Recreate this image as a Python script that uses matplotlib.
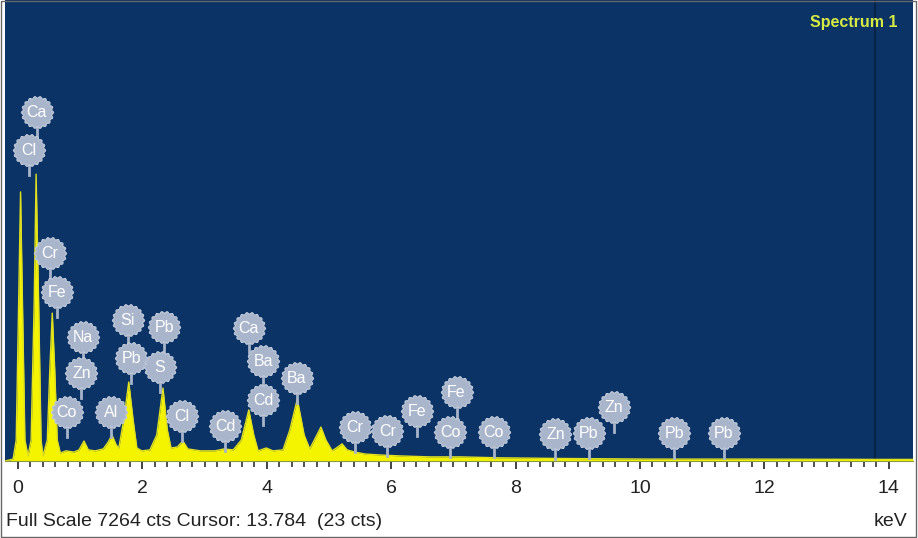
import numpy as np
import matplotlib
matplotlib.use("Agg")
import matplotlib.pyplot as plt
from matplotlib.path import Path
from matplotlib.patches import Rectangle

plt.rcParams['font.family'] = ['Liberation Sans', 'DejaVu Sans']

FULL_SCALE = 7264
CURSOR_KEV = 13.784

# spectrum outline (keV, counts)
spec_kev = [-0.21, -0.08, -0.03, 0.01, 0.04, 0.07, 0.11, 0.16, 0.21, 0.26, 0.29, 0.33,
            0.37, 0.40, 0.47, 0.51, 0.55, 0.59, 0.63, 0.68, 0.77, 0.90, 0.98, 1.06,
            1.13, 1.24, 1.37, 1.45, 1.51, 1.58, 1.62, 1.70, 1.78, 1.85, 1.91, 1.99,
            2.12, 2.23, 2.33, 2.40, 2.46, 2.56, 2.65, 2.73, 2.93, 3.17, 3.31, 3.46,
            3.59, 3.71, 3.79, 3.86, 3.99, 4.10, 4.26, 4.37, 4.49, 4.60, 4.69, 4.79,
            4.87, 4.95, 5.05, 5.14, 5.21, 5.29, 5.42, 5.58, 5.82, 6.14, 6.62, 7.11,
            7.75, 8.71, 10.16, 11.77, 13.86, 14.39]
spec_cts = [0, 30, 330, 2540, 4240, 2540, 330, 80, 330, 2540, 4520, 2540,
            330, 80, 330, 1430, 2330, 1430, 330, 125, 160, 140, 175, 315,
            175, 160, 190, 300, 410, 250, 205, 650, 1245, 650, 205, 160,
            175, 410, 1150, 490, 205, 220, 315, 190, 160, 160, 190, 175,
            330, 805, 410, 160, 205, 160, 175, 490, 975, 410, 190, 380,
            535, 330, 160, 220, 270, 175, 140, 110, 95, 80, 65, 65,
            50, 40, 30, 30, 25, 25]

# element markers (label, keV, counts at badge centre)
label_names = ["Ca", "Cl", "Cr", "Fe", "Na", "Zn", "Co", "Al", "Si", "Pb", "Pb", "S",
               "Cl", "Cd", "Ca", "Ba", "Cd", "Ba", "Cr", "Cr", "Fe", "Fe", "Co", "Co",
               "Zn", "Pb", "Zn", "Pb", "Pb"]
label_kev = [0.30, 0.18, 0.51, 0.62, 1.05, 1.02, 0.78, 1.50, 1.76, 1.82, 2.35, 2.28,
             2.64, 3.33, 3.71, 3.94, 3.94, 4.48, 5.42, 5.94, 6.41, 7.05, 6.95, 7.65,
             8.64, 9.18, 9.58, 10.55, 11.35]
label_cts = [5504, 4900, 3277, 2663, 1954, 1387, 772, 772, 2222, 1623, 2111, 1481,
             709, 551, 2096, 1576, 961, 1308, 536, 473, 788, 1087, 457, 457,
             425, 441, 851, 441, 441]

tick_values = [0, 2, 4, 6, 8, 10, 12, 14]

BG = "#0b3366"
YELLOW = "#f4f400"
BADGE = "#a9b5cb"

W, H = 918, 538
fig = plt.figure(figsize=(W / 100, H / 100), dpi=100)
ax = fig.add_axes([5 / W, (H - 461) / H, 908 / W, 461 / H])
ax.set_facecolor(BG)

ax.fill_between(spec_kev, spec_cts, 0, color=YELLOW, lw=0, zorder=2)
ax.plot(spec_kev, spec_cts, color="#e0e020", lw=1.0, zorder=2)
ax.axvline(CURSOR_KEV, color="#062448", lw=1.5, zorder=1)

ax.set_xlim(-0.21, 14.39)
ax.set_ylim(0, FULL_SCALE)

# badge marker with a bumpy rim
theta = np.linspace(0, 2 * np.pi, 97)
r = 1 + 0.06 * np.cos(18 * theta)
badge = Path(np.column_stack([r * np.cos(theta), r * np.sin(theta)]), closed=True)

cts_per_px = FULL_SCALE / 461
for name, x, y in zip(label_names, label_kev, label_cts):
    ax.plot([x, x], [y - 13 * cts_per_px, y - 25 * cts_per_px], color=BADGE, lw=2, zorder=3)
    ax.scatter([x], [y], s=540, marker=badge, color=BADGE, edgecolors="#c2cbdb",
               linewidths=0.8, zorder=4)
    ax.text(x, y - 0.5 * cts_per_px, name, color="white", fontsize=11.5, ha="center",
            va="center", zorder=5)

ax.text(0.983, 0.952, "Spectrum 1", transform=ax.transAxes, color="#d6ea44",
        fontsize=11.5, fontweight="bold", ha="right", va="center")

ax.set_yticks([])
ax.set_xticks(tick_values)
ax.set_xticklabels([str(t) for t in tick_values], fontsize=14, color="#222222")
ax.set_xticks(np.arange(0, 14.01, 0.2), minor=True)
ax.tick_params(axis="x", which="major", direction="out", length=6, width=1.2,
               color="#222222", pad=8)
ax.tick_params(axis="x", which="minor", direction="out", length=4.5, width=1.1,
               color="#222222")
for side in ["top", "right", "left"]:
    ax.spines[side].set_visible(False)
ax.spines["bottom"].set_color("#8a9a40")

fig.text(6 / W, 1 - 522 / H, "Full Scale 7264 cts Cursor: 13.784  (23 cts)",
         fontsize=14, color="#222222", ha="left", va="center")
fig.text(907 / W, 1 - 522 / H, "keV", fontsize=14, color="#222222", ha="right", va="center")

fig.patches.append(Rectangle((1 / W, 1 / H), 915 / W, 536 / H, transform=fig.transFigure,
                             fill=False, edgecolor="#666666", lw=1))

fig.savefig("out.png", dpi=100, facecolor="white")
